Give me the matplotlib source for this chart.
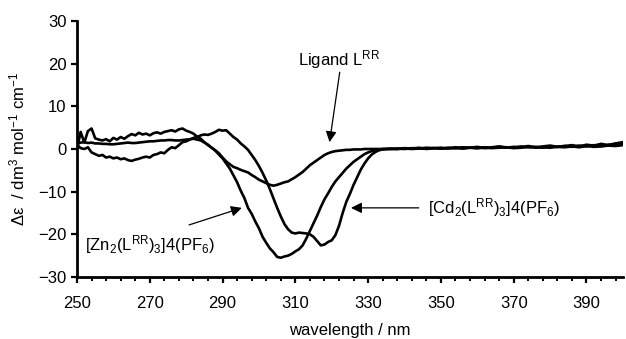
import matplotlib
matplotlib.use('Agg')
import matplotlib.pyplot as plt
from matplotlib.ticker import MultipleLocator

plt.rcParams['font.family'] = ['Liberation Sans', 'DejaVu Sans']
plt.rcParams['mathtext.default'] = 'regular'
plt.rcParams['font.size'] = 12

# sampling grid: 1 nm up to 335 nm, 2 nm above
main_wl = list(range(250, 336))
tail_wl = list(range(336, 401, 2))
wl = main_wl + tail_wl

zn_main = [
    0.0, 4.0, 1.5, 4.2, 4.8, 2.5, 2.2, 2.0, 2.3, 1.8,
    2.6, 2.2, 2.8, 2.4, 3.0, 3.5, 3.2, 3.8, 3.4, 3.6,
    3.2, 3.7, 3.9, 3.6, 4.0, 4.2, 4.4, 4.1, 4.6, 4.8,
    4.3, 4.0, 3.6, 2.9, 2.4, 1.6, 0.9, 0.3, -0.4, -1.3,
    -2.2, -3.4, -4.6, -6.2, -7.8, -9.8, -11.5, -13.8, -15.2, -17.0,
    -18.6, -20.6, -22.0, -23.3, -24.2, -25.3, -25.5, -25.2, -25.0, -24.6,
    -24.0, -23.5, -22.6, -21.0, -19.2, -17.4, -15.6, -13.6, -11.8, -10.4,
    -8.9, -7.6, -6.6, -5.6, -4.6, -3.8, -3.0, -2.4, -1.8, -1.2,
    -0.8, -0.5, -0.3, -0.1, 0.0, 0.0,
]
zn_tail = [
    0.0, 0.1, 0.0, 0.2, 0.1, 0.3, 0.2, 0.1, 0.3, 0.2, 0.4, 0.3, 0.2, 0.4, 0.3,
    0.5, 0.4, 0.3, 0.6, 0.4, 0.5, 0.3, 0.6, 0.5, 0.7, 0.5, 0.8, 0.6, 0.9, 0.7,
    1.0, 1.2, 1.4,
]

cd_main = [
    1.0, 0.2, 0.0, 0.4, -0.8, -1.2, -1.6, -1.4, -2.0, -1.8,
    -2.2, -2.0, -2.4, -2.2, -2.6, -2.8, -2.5, -2.3, -2.0, -1.8,
    -2.0, -1.4, -1.2, -0.8, -1.0, -0.2, 0.4, 0.2, 0.9, 1.6,
    1.8, 2.2, 2.6, 2.8, 3.2, 3.4, 3.3, 3.6, 4.0, 4.5,
    4.3, 4.4, 3.6, 2.8, 2.2, 1.3, 0.6, -0.2, -1.4, -2.6,
    -4.0, -5.6, -7.4, -9.4, -11.6, -13.8, -15.8, -17.6, -18.8, -19.6,
    -19.8, -19.6, -19.7, -19.8, -20.0, -20.6, -21.6, -22.6, -22.4, -21.8,
    -21.4, -20.2, -18.0, -15.0, -12.4, -10.5, -8.4, -6.6, -4.8, -3.4,
    -2.2, -1.3, -0.7, -0.3, -0.1, 0.0,
]
cd_tail = [
    0.1, 0.0, 0.2, 0.1, 0.3, 0.0, 0.2, 0.3, 0.1, 0.4, 0.2, 0.3, 0.5, 0.2, 0.4,
    0.6, 0.3, 0.5, 0.4, 0.7, 0.4, 0.6, 0.8, 0.5, 0.7, 0.9, 0.6, 1.0, 0.8, 1.2,
    0.9, 1.3, 1.6,
]

lig_main = [
    1.2, 1.5, 1.6, 1.4, 1.5, 1.3, 1.3, 1.2, 1.2, 1.1,
    1.1, 1.2, 1.3, 1.4, 1.5, 1.4, 1.4, 1.5, 1.6, 1.7,
    1.8, 1.8, 1.9, 2.0, 2.0, 2.1, 2.1, 2.0, 2.0, 2.1,
    2.2, 2.3, 2.4, 2.2, 2.0, 1.5, 1.0, 0.3, -0.3, -1.0,
    -2.0, -2.9, -3.6, -4.2, -4.5, -4.9, -5.2, -5.5, -6.1, -6.6,
    -7.2, -7.6, -8.0, -8.4, -8.6, -8.4, -8.1, -7.8, -7.6, -7.1,
    -6.6, -6.0, -5.4, -4.6, -3.8, -3.2, -2.6, -2.0, -1.4, -1.0,
    -0.7, -0.5, -0.4, -0.3, -0.2, -0.2, -0.1, -0.1, -0.1, 0.0,
    0.0, 0.0, 0.0, 0.0, 0.0, 0.0,
]
lig_tail = [
    0.0, 0.0, 0.1, 0.0, 0.1, 0.1, 0.2, 0.1, 0.2, 0.2, 0.1, 0.3, 0.2, 0.3, 0.2,
    0.3, 0.4, 0.2, 0.3, 0.5, 0.3, 0.4, 0.3, 0.5, 0.4, 0.6, 0.4, 0.7, 0.5, 0.6,
    0.8, 0.7, 0.9,
]

fig = plt.figure(figsize=(6.26, 3.39), dpi=100)
ax = fig.add_axes([0.123, 0.183, 0.872, 0.755])

for vals in (zn_main + zn_tail, cd_main + cd_tail, lig_main + lig_tail):
    ax.plot(wl, vals, color='black', lw=1.9, solid_joinstyle='round')

ax.set_xlim(250, 400)
ax.set_ylim(-30, 30)
ax.xaxis.set_major_locator(MultipleLocator(20, offset=10))
ax.xaxis.set_minor_locator(MultipleLocator(4, offset=2))
ax.yaxis.set_major_locator(MultipleLocator(10))

for side in ('top', 'right'):
    ax.spines[side].set_visible(False)
for side in ('left', 'bottom'):
    ax.spines[side].set_linewidth(2.0)

ax.tick_params(axis='both', which='major', direction='out', length=4.5, width=1.6)
ax.tick_params(axis='x', which='major', pad=9)
ax.tick_params(axis='y', which='major', pad=3)
ax.tick_params(axis='x', which='minor', direction='out', length=3, width=1.4)

ax.set_xlabel('wavelength / nm', labelpad=9)
ax.set_ylabel('Δε  / dm$^3$ mol$^{-1}$ cm$^{-1}$', labelpad=8)

arrow = dict(arrowstyle='-|>', color='black', lw=0.9, mutation_scale=16, shrinkA=0, shrinkB=0)

ax.annotate('', xy=(319.4, 1.6), xytext=(322.2, 18.0), arrowprops=arrow)
ax.text(322, 21.0, 'Ligand L$^{RR}$', ha='center', va='center')

ax.annotate('', xy=(325.3, -13.8), xytext=(343.9, -13.8), arrowprops=arrow)
ax.text(346.5, -13.8, '[Cd$_2$(L$^{RR}$)$_3$]4(PF$_6$)', ha='left', va='center')

ax.annotate('', xy=(295.3, -13.8), xytext=(280.8, -17.8), arrowprops=arrow)
ax.text(252.2, -22.5, '[Zn$_2$(L$^{RR}$)$_3$]4(PF$_6$)', ha='left', va='center')

fig.savefig('out.png', dpi=100)
